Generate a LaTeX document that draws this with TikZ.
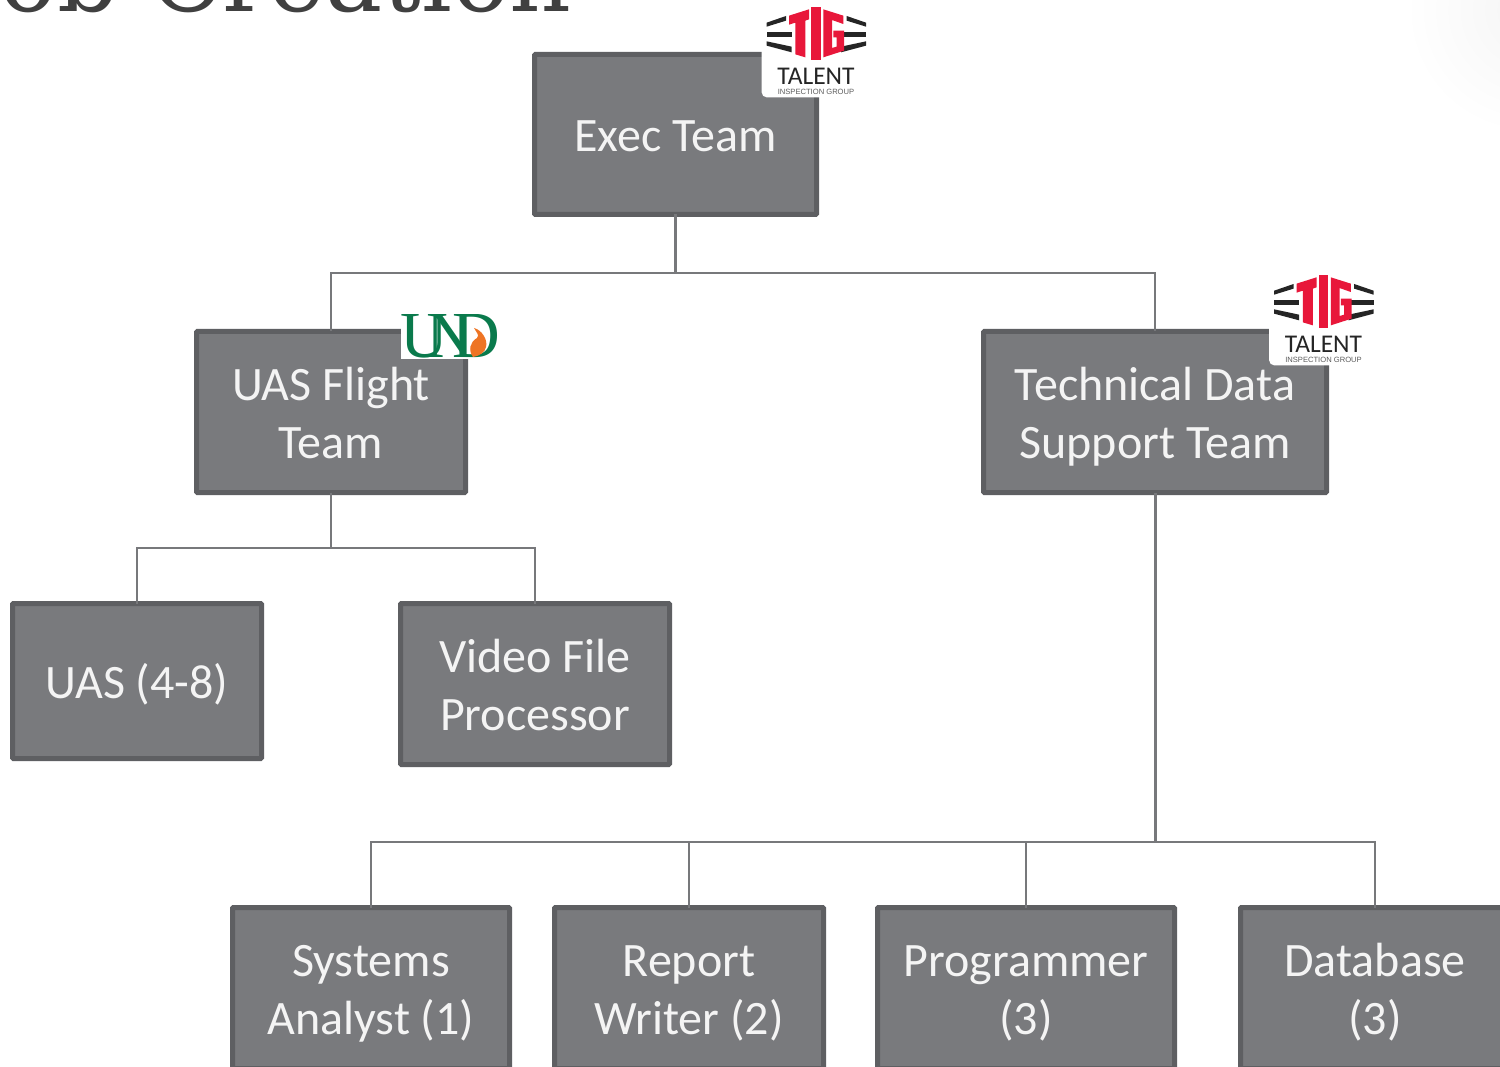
\documentclass[tikz,border=0pt]{standalone}
\usepackage{fontspec}
\setmainfont{Carlito}
\newfontfamily\titlefont{DejaVu Serif}
\newfontfamily\undfont{Liberation Serif}
\newfontfamily\tighead{Liberation Sans}
\definecolor{boxfill}{HTML}{797A7D}
\definecolor{boxedge}{HTML}{5E5F62}
\definecolor{linkcol}{HTML}{77787B}
\definecolor{boxtext}{HTML}{F4F4F4}
\definecolor{titlecol}{HTML}{404040}
\definecolor{tigred}{HTML}{E8173A}
\definecolor{tigblack}{HTML}{252525}
\definecolor{undgreen}{HTML}{0A7A4C}
\definecolor{undorange}{HTML}{EE7424}
\newcommand{\ls}{\vrule width 0pt height 46pt depth 12pt\relax}
\tikzset{
  orgbox/.style={draw=boxedge,fill=boxfill,line width=5pt,rounded corners=1pt,inner sep=0pt,outer sep=0pt,
    text=boxtext,align=center,font=\fontsize{48}{58}\selectfont},
  link/.style={draw=linkcol,line width=2.5pt},
  trunk/.style={draw=linkcol,line width=3pt},
  tigbar/.style={fill=tigblack},
  tigletter/.style={fill=tigred},
  undletter/.style={text=undgreen,inner sep=0pt,font=\undfont\fontsize{66}{66}\selectfont}
}
\newcommand{\tiglogo}[2]{%
\begin{scope}[shift={(#1,#2)}]
\begin{scope}[x=0.33333pt,y=-0.33333pt]
  \fill[white,rounded corners=5pt] (65,3) rectangle (392,292);
  % left bars
  \fill[tigbar] (80,68) -- (138,48) -- (138,62) -- (80,80) -- cycle;
  \fill[tigbar] (80,95) -- (155,95) -- (155,110) -- (80,110) -- cycle;
  \fill[tigbar] (80,124) -- (155,140) -- (155,157) -- (80,137) -- cycle;
  % right bars
  \fill[tigbar] (378,68) -- (320,48) -- (320,62) -- (378,80) -- cycle;
  \fill[tigbar] (378,95) -- (303,95) -- (303,110) -- (378,110) -- cycle;
  \fill[tigbar] (378,124) -- (303,140) -- (303,157) -- (378,137) -- cycle;
  % T I G
  \fill[tigletter] (147,47) -- (207,28) -- (207,58) -- (196,62) -- (196,172) -- (166,163) -- (166,68) -- (147,74) -- cycle;
  \fill[tigletter] (214,22) -- (242,22) -- (242,180) -- (214,180) -- cycle;
  \fill[tigletter] (250,28) -- (310,47) -- (310,72) -- (276,60) -- (276,144) -- (290,140) -- (290,112) -- (280,112) -- (280,92) -- (312,92) -- (312,152) -- (250,172) -- cycle;
  \node[text=tigblack,inner sep=0pt,font=\fontsize{25.5}{25}\selectfont] at (228,229) {TALENT};
  \node[text=tigblack!75,inner sep=0pt,font=\tighead\fontsize{7.6}{8}\selectfont] at (228,276) {INSPECTION GROUP};
\end{scope}
\end{scope}}
\begin{document}
\begin{tikzpicture}[x=1pt,y=-1pt]
\useasboundingbox (0,0) rectangle (1500,1067);
\clip (0,0) rectangle (1500,1067);
\fill[white] (0,0) rectangle (1500,1067);
\shade[inner color=black!4,outer color=white] (1530,10) circle (125);
% title, cut by the top of the picture
\node[anchor=base east,inner sep=0pt,text=titlecol,font=\titlefont\fontsize{96}{96}\selectfont] (title) at (572,12) {Job Creation};
% boxes
\node[orgbox,minimum width=282pt,minimum height=160pt] (exec) at (675.5,134.5) {\ls Exec Team};
\node[orgbox,minimum width=269pt,minimum height=161pt] (flight) at (331,412) {\ls UAS Flight\\\ls Team};
\node[orgbox,minimum width=343pt,minimum height=161pt] (tech) at (1155,412) {\ls Technical Data\\\ls Support Team};
\node[orgbox,minimum width=249pt,minimum height=155pt] (uas) at (137,681) {\ls UAS (4-8)};
\node[orgbox,minimum width=269pt,minimum height=161pt] (video) at (535,684) {\ls Video File\\\ls Processor};
\node[orgbox,minimum width=277pt,minimum height=161pt] (systems) at (371,988) {\ls Systems\\\ls Analyst (1)};
\node[orgbox,minimum width=269pt,minimum height=161pt] (report) at (689,988) {\ls Report\\\ls Writer (2)};
\node[orgbox,minimum width=297pt,minimum height=161pt] (prog) at (1026,988) {\ls Programmer\\\ls (3)};
\node[orgbox,minimum width=269pt,minimum height=161pt] (db) at (1375,988) {\ls Database\\\ls (3)};
% junctions
\coordinate (jtop) at (675.5,273);
\coordinate (jflight) at (331,548);
\coordinate (jtech) at (1155,842);
\coordinate (jreport) at (689,842);
\coordinate (jprog) at (1026,842);
% connectors
\draw[link] (exec.south) -- (jtop);
\draw[link] (jtop) -| (flight.north);
\draw[link] (jtop) -| (tech.north);
\draw[link] (flight.south) -- (jflight);
\draw[link] (jflight) -| (uas.north);
\draw[link] (jflight) -| (video.north);
\draw[trunk] (tech.south) -- (jtech);
\draw[link] (jtech) -| (systems.north);
\draw[link] (jtech) -| (db.north);
\draw[link] (jreport) -- (report.north);
\draw[link] (jprog) -- (prog.north);
% logos
\tiglogo{740}{0}
\tiglogo{1247.5}{268}
% UND logo
\fill[white] (401,315) rectangle (497,359);
\begin{scope}
\clip (401,315) rectangle (497,359);
\node[undletter,anchor=base] (undu) at (424,358) {U};
\node[undletter,anchor=base] (undn) at (450,358) {N};
\node[undletter,anchor=base] (undd) at (476,358) {D};
\end{scope}
\fill[undorange] (473,357) .. controls (468,350) and (470,342) .. (477,338) .. controls (480,335) and (476,332) .. (474,328) .. controls (482,330) and (488,340) .. (486,347) .. controls (485,352) and (480,356) .. (473,357) -- cycle;
\end{tikzpicture}
\end{document}
